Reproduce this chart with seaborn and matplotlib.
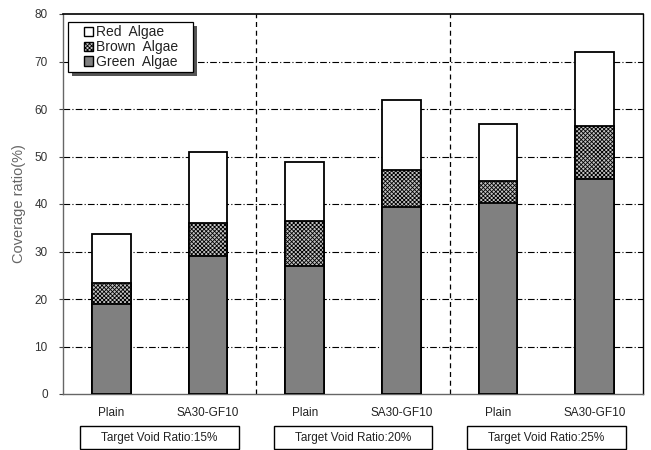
import matplotlib
matplotlib.use("Agg")
import matplotlib.pyplot as plt
import matplotlib.transforms as mtransforms
from matplotlib.patches import Patch, Rectangle
import seaborn as sns
import pandas as pd

# Coverage ratio (%) of each algae type, per specimen and target void ratio
specimens = ["Plain", "SA30-GF10", "Plain", "SA30-GF10", "Plain", "SA30-GF10"]
groups = ["Target Void Ratio:15%", "Target Void Ratio:20%", "Target Void Ratio:25%"]
green_algae = [19.0, 29.0, 27.0, 39.3, 40.2, 45.2]
brown_algae = [4.3, 7.0, 9.4, 7.9, 4.6, 11.2]
red_algae = [10.3, 15.0, 12.5, 14.7, 12.0, 15.5]

slot = [f"{g}|{s}" for g, s in zip([0, 0, 1, 1, 2, 2], specimens)]
df = pd.DataFrame({
    "slot": slot,
    "green": green_algae,
    "brown": brown_algae,
    "red": red_algae,
})
df["green_brown"] = df["green"] + df["brown"]
df["total"] = df["green_brown"] + df["red"]

sns.set_theme(style="white")
plt.rcParams["font.family"] = ["Liberation Sans", "DejaVu Sans"]
plt.rcParams["hatch.color"] = "#2a2a2a"
plt.rcParams["hatch.linewidth"] = 0.6

fig = plt.figure(figsize=(6.51, 4.5), dpi=100)
ax = fig.add_axes([63 / 651, 1 - 394 / 450, 580 / 651, 380 / 450])

bar_w = 0.4
edge = dict(edgecolor="black", linewidth=1.3)
brown_face = "#c4c4c4"
brown_hatch = "xxxxxxxx"

# Stack built by overlaying cumulative totals
sns.barplot(data=df, x="slot", y="total", color="white", width=bar_w,
            saturation=1, ax=ax, zorder=3, **edge)
sns.barplot(data=df, x="slot", y="green_brown", color=brown_face, width=bar_w,
            saturation=1, ax=ax, zorder=4, hatch=brown_hatch, **edge)
sns.barplot(data=df, x="slot", y="green", color="#808080", width=bar_w,
            saturation=1, ax=ax, zorder=5, **edge)
for p in ax.patches:
    p.set_edgecolor("black")

ax.set_xlim(-0.5, 5.5)
ax.set_ylim(0, 80)
ax.set_yticks(range(0, 81, 10))
ax.set_xticks(range(6))
ax.set_xticklabels(specimens, fontsize=8.5, color="#222222")
ax.tick_params(axis="x", length=0, pad=9)
ax.tick_params(axis="y", left=True, length=3, width=0.8, color="#444444",
               labelsize=8.5, labelcolor="#333333", pad=8)
ax.set_xlabel("")
ax.set_ylabel("Coverage ratio(%)", fontsize=10.5, color="#666666", labelpad=6)

# Horizontal dash-dot grid and group separators
for yv in range(10, 80, 10):
    ax.axhline(yv, color="black", linestyle=(0, (6, 2, 1, 2)), linewidth=0.8, zorder=1)
for xv in (1.5, 3.5):
    ax.axvline(xv, color="black", linestyle=(0, (4, 3)), linewidth=0.9, zorder=1)

for side in ("left", "bottom"):
    ax.spines[side].set_color("#666666")
    ax.spines[side].set_linewidth(1.0)
ax.spines["right"].set_color("black")
ax.spines["right"].set_linewidth(1.0)
ax.spines["top"].set_color("black")
ax.spines["top"].set_linewidth(1.2)
ax.spines["top"].set_linestyle((0, (1.5, 1)))

# Legend entries, drawn over a wider framed box with a drop shadow
handles = [
    Patch(facecolor="white", edgecolor="black", label="Red  Algae"),
    Patch(facecolor=brown_face, edgecolor="black", hatch=brown_hatch, label="Brown  Algae"),
    Patch(facecolor="#808080", edgecolor="black", label="Green  Algae"),
]
leg = ax.legend(handles=handles, loc="upper left", bbox_to_anchor=(0.03, 0.979),
                frameon=False, fontsize=10,
                handlelength=0.65, handleheight=0.65, handletextpad=0.2,
                labelspacing=0.05, borderpad=0.25, borderaxespad=0)
leg.set_zorder(10)
for t in leg.get_texts():
    t.set_color("#222222")

fig.canvas.draw()
bb = leg.get_window_extent()
box_x0 = bb.x0 - 12
box_w = 125
ident = mtransforms.IdentityTransform()
shadow = Rectangle((box_x0 + 4, bb.y0 - 4), box_w, bb.height, transform=ident,
                   facecolor="#555555", edgecolor="none", zorder=8.9, clip_on=False)
leg_box = Rectangle((box_x0, bb.y0), box_w, bb.height, transform=ident,
                    facecolor="white", edgecolor="black", linewidth=0.9,
                    zorder=9, clip_on=False)
ax.add_artist(shadow)
ax.add_artist(leg_box)

# Boxed group captions under the specimen labels
trans = mtransforms.blended_transform_factory(ax.transData, ax.transAxes)
y0 = (394 - 449) / 380
h = 23 / 380
for i, name in enumerate(groups):
    cx = 2 * i + 0.5
    ax.add_patch(Rectangle((cx - 0.82, y0), 1.64, h, transform=trans,
                           facecolor="white", edgecolor="black", linewidth=1.0,
                           clip_on=False))
    ax.text(cx, y0 + h / 2, name, transform=trans, ha="center", va="center",
            fontsize=8.5, color="#222222")

fig.savefig("out.png", dpi=100)
